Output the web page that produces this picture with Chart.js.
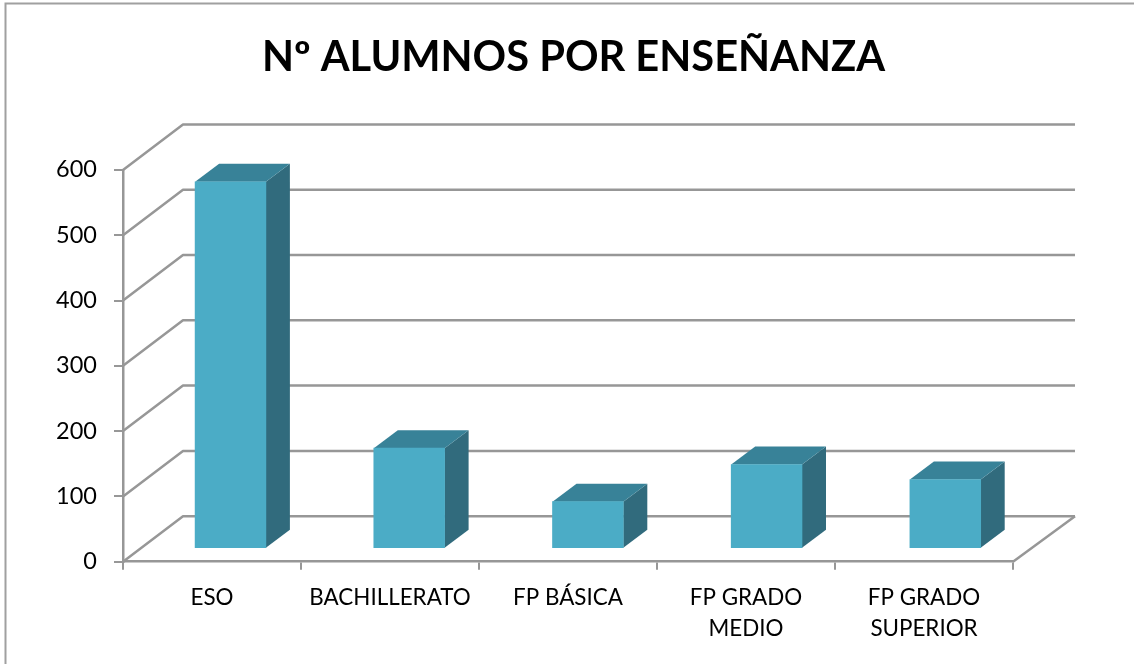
<!DOCTYPE html>
<html lang="es">
<head>
    <meta charset="UTF-8">
    <title>Nº alumnos por enseñanza</title>
    <script src="https://cdn.jsdelivr.net/npm/chart.js"></script>
    <style>
        html, body { margin: 0; background: #fff; }
        canvas { display: block; }
    </style>
</head>
<body>
    <canvas id="chart" width="1134" height="664"></canvas>
    <script>
    const titulo = 'Nº ALUMNOS POR ENSEÑANZA';
    const categorias = ['ESO', 'BACHILLERATO', 'FP BÁSICA', ['FP GRADO', 'MEDIO'], ['FP GRADO', 'SUPERIOR']];
    const alumnos = [562, 154, 72, 129, 106];
    const yMax = 600;
    const yStep = 100;

    const GREY = '#979797';
    const FRONT = '#4bacc6';
    const TOP = '#388298';
    const SIDE = '#316b7d';
    const WALL_DX = 60, WALL_DY = -45.5;   // back wall offset
    const WALL_RIGHT = 1075;
    const BAR_DX = 24, BAR_DY = -18;       // bar depth

    function poly(ctx, pts, color) {
        ctx.beginPath();
        pts.forEach((p, i) => i ? ctx.lineTo(p[0], p[1]) : ctx.moveTo(p[0], p[1]));
        ctx.closePath();
        ctx.fillStyle = color;
        ctx.fill();
    }

    const fake3d = {
        id: 'fake3d',
        afterLayout(chart) {
            // title is not centred on the page in the original
            chart.titleBlock.left += 67;
            chart.titleBlock.right += 67;
        },
        beforeDraw(chart) {
            const ctx = chart.ctx;
            ctx.save();
            ctx.strokeStyle = '#a0a0a0';
            ctx.lineWidth = 2;
            ctx.beginPath();
            ctx.moveTo(5.5, 664);
            ctx.lineTo(5.5, 3.5);
            ctx.lineTo(1134, 3.5);
            ctx.stroke();
            ctx.restore();
        },
        beforeDatasetsDraw(chart) {
            const ctx = chart.ctx, y = chart.scales.y, area = chart.chartArea;
            ctx.save();
            ctx.strokeStyle = GREY;
            ctx.lineWidth = 2.5;
            ctx.lineJoin = 'round';
            y.ticks.forEach(t => {
                const py = y.getPixelForValue(t.value);
                ctx.beginPath();
                ctx.moveTo(area.left, py);
                ctx.lineTo(area.left + WALL_DX, py + WALL_DY);
                ctx.lineTo(WALL_RIGHT, py + WALL_DY);
                ctx.stroke();
            });
            ctx.beginPath();
            ctx.moveTo(area.right, area.bottom);
            ctx.lineTo(WALL_RIGHT, area.bottom + WALL_DY);
            ctx.stroke();
            ctx.restore();
        },
        beforeDatasetDraw(chart, args) {
            const ctx = chart.ctx;
            args.meta.data.forEach((bar, i) => {
                const p = bar.getProps(['x', 'y', 'base', 'width'], true);
                const l = p.x - p.width / 2, r = p.x + p.width / 2;
                ctx.save();
                // bars stand on the floor, slightly behind the front edge
                ctx.translate(18.5 + 0.7 * i, -13);
                poly(ctx, [[r, p.y], [r + BAR_DX, p.y + BAR_DY], [r + BAR_DX, p.base + BAR_DY], [r, p.base]], SIDE);
                poly(ctx, [[l, p.y], [l + BAR_DX, p.y + BAR_DY], [r + BAR_DX, p.y + BAR_DY], [r, p.y]], TOP);
                bar.draw(ctx, chart.chartArea);
                ctx.restore();
            });
            return false;
        }
    };

    new Chart(document.getElementById('chart').getContext('2d'), {
        type: 'bar',
        data: {
            labels: categorias,
            datasets: [{
                label: 'Alumnos',
                data: alumnos,
                backgroundColor: FRONT,
                borderWidth: 0,
                barThickness: 70.8
            }]
        },
        options: {
            responsive: false,
            animation: false,
            layout: { padding: { left: 0, right: 121, top: 0, bottom: 0 } },
            plugins: {
                legend: { display: false },
                tooltip: { enabled: false },
                title: {
                    display: true,
                    text: titulo,
                    color: '#000',
                    font: { family: 'Lato', size: 41.6, weight: 'bold', lineHeight: 1.2 },
                    padding: { top: 33, bottom: 87 }
                }
            },
            scales: {
                x: {
                    afterFit: s => { s.height = 102.3; },
                    border: { display: true, color: GREY, width: 2.5 },
                    grid: { offset: true, drawOnChartArea: false, drawTicks: true, tickLength: 8, color: GREY, lineWidth: 2 },
                    ticks: {
                        color: '#000',
                        padding: 12,
                        maxRotation: 0,
                        autoSkip: false,
                        font: { family: 'Lato', size: 22.4, lineHeight: 1.4 }
                    }
                },
                y: {
                    min: 0,
                    max: yMax,
                    afterFit: s => { s.width = 123; },
                    border: { display: true, color: GREY, width: 2.5 },
                    grid: { drawOnChartArea: false, drawTicks: true, tickLength: 9, color: GREY, lineWidth: 2 },
                    ticks: {
                        stepSize: yStep,
                        color: '#000',
                        padding: 17,
                        font: { family: 'Lato', size: 23.5 }
                    }
                }
            }
        },
        plugins: [fake3d]
    });
    </script>
</body>
</html>
